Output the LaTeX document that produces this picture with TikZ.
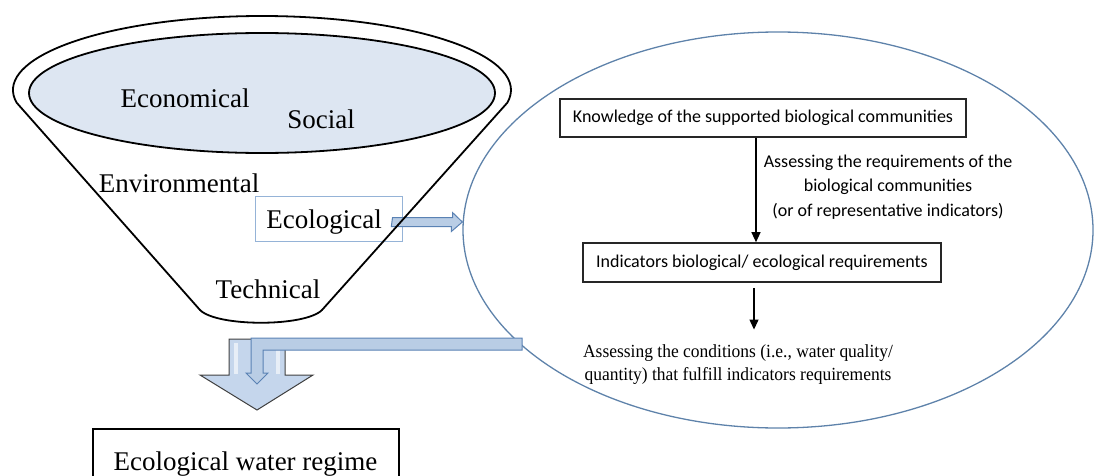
\documentclass[tikz,border=0pt]{standalone}
\usepackage{fontspec}
\setmainfont{Liberation Serif}
\newfontfamily\calib{Carlito}
\usetikzlibrary{arrows.meta,calc,shapes.geometric}
\definecolor{innerfill}{RGB}{221,230,242}
\definecolor{ecoedge}{RGB}{149,179,215}
\definecolor{arrfill}{RGB}{185,205,229}
\definecolor{arredge}{RGB}{90,130,180}
\definecolor{ellblue}{RGB}{94,130,170}
\definecolor{bigfill}{RGB}{197,214,236}
\begin{document}
\begin{tikzpicture}[x=1pt,y=1pt,
  funnel/.style={line width=1.8pt, black, line join=round},
  big/.style={font=\fontsize{27}{30}\selectfont},
  sans/.style={font=\calib\fontsize{18}{24.5}\selectfont},
  serifsmall/.style={font=\fontsize{18.5}{23}\selectfont, xscale=0.945},
  flowbox/.style={draw=black!85, line width=1.6pt, sans, inner sep=0pt},
  flowarrow/.style={-{Triangle[width=9pt,length=10pt]}, line width=1.2pt},
  blockarrow/.style={fill=arrfill, draw=arredge, line width=1pt, line join=miter},
]
\useasboundingbox (0,0) rectangle (1094,475);
\clip (0,0) rectangle (1094,475);

% big scope ellipse
\node (scope) [ellipse, draw=ellblue, line width=1.3pt, minimum width=630pt, minimum height=396pt, inner sep=0pt] at (778,245) {};

% ecological box and arrow to scope
\node (eco) [draw=ecoedge, line width=1pt, minimum width=147pt, minimum height=45pt, inner sep=0pt] at (328.5,256.5) {};
\path[blockarrow] ($(eco.east)+(-10,1)$) -- ++(60,0) -- ++(0,5) -- ($(scope.west)+(0,8)$) -- ++(-11,-9.5) -- ++(0,5) -- ++(-60,0) -- cycle;

% funnel
\draw[funnel] (200,165) -- ($(262,385)+(190:249 and 74)$)
  arc[start angle=190, end angle=-10, x radius=249, y radius=74]
  -- (322,165) .. controls (305,148) and (217,148) .. (200,165) -- cycle;
\draw[funnel, fill=innerfill] (262,382) ellipse[x radius=233, y radius=60];

% funnel labels
\node[big, anchor=base] (econ) at (185,367) {Economical};
\node[big, anchor=base] (social) at (321,347) {Social};
\node[big, anchor=base] (env) at (179,283) {Environmental};
\node[big, anchor=base] (ecotext) at (324,247) {Ecological};
\node[big, anchor=base] (tech) at (268,177) {Technical};

% right flow
\node (box1) [flowbox, minimum width=406pt, minimum height=38pt] at (763,357) {Knowledge of the supported biological communities};
\node (box2) [flowbox, minimum width=358pt, minimum height=39pt] at (762,212.5) {Indicators biological/ ecological requirements};
\coordinate (ax1) at (756,0);
\draw[flowarrow] (box1.south -| ax1) -- (box2.north -| ax1);
\node (lab1) [sans, align=center] at (888,288) {Assessing the requirements of the\\biological communities\\(or of representative indicators)};
\node (cond) [serifsmall, align=center] at (738,110) {Assessing the conditions (i.e., water quality/\\quantity) that fulfill indicators requirements};
\coordinate (ax2) at (754,0);
\draw[flowarrow] ($(box2.south -| ax2)+(0,-5)$) -- ($(cond.north -| ax2)+(0,12)$);

% big down arrow
\node (regimebox) [draw, line width=1.6pt, anchor=north west, minimum width=306pt, minimum height=70pt, inner sep=0pt] at (92,47) {};
\node (regime) [big, anchor=base west] at (110,5) {Ecological water regime};
\path[fill=bigfill, draw=black!75, line width=1pt, line join=miter]
  (229,136) -- (285,136) -- (285,100) -- (313,100) -- (257,65) -- (200,100) -- (229,100) -- cycle;
\fill[white, opacity=0.6] (234,132) rectangle (238,101);
\fill[white, opacity=0.6] (276,132) rectangle (280,101);

% L-shaped arrow from scope to big arrow
\path[blockarrow] (522,137) -- (251,137) -- (251,102) -- (246,102) -- (257,91) -- (268,102) -- (263,102) -- (263,125) -- (522,125) -- cycle;
\end{tikzpicture}
\end{document}
